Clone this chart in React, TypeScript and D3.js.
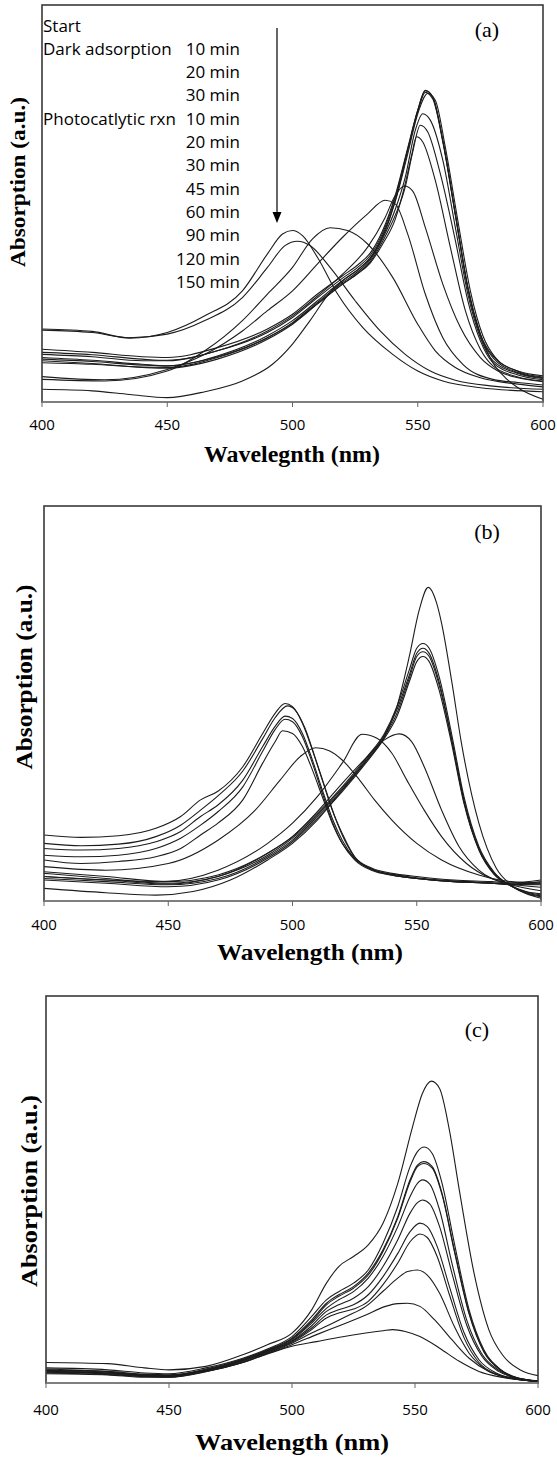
import React from "react";
import * as d3 from "d3";

type Pt = [number, number];

// ---------------- DATA ----------------
const wavelengthTicks = [400, 450, 500, 550, 600];

// Panel (a) spectra: [wavelength nm, absorption a.u.]
const aStart: Pt[] = [[400,3.2],[420,2.8],[435,1.9],[450,1.1],[465,2.6],[480,5.3],[492,9.5],[500,14.6],[507,20.5],[515,27.6],[521,31.0],[527,33.8],[532,37.0],[537,43.0],[542,53.0],[546,63.5],[550,73.5],[553,78.5],[556,76.9],[560,65.9],[565,47.4],[570,28.9],[575,17.1],[580,9.9],[585,6.1],[590,3.6],[600,0.7]];
const aDark10: Pt[] = [[400,13.3],[420,12.5],[440,11.4],[450,11.2],[470,13.7],[490,18.4],[500,22.1],[510,27.2],[520,31.8],[526,34.5],[531,37.5],[536,43.2],[541,52.0],[546,64.0],[550,73.5],[553,78.4],[556,76.7],[560,65.9],[565,47.4],[570,28.9],[575,17.1],[580,11.6],[590,7.8],[600,6.6]];
const aDark20: Pt[] = [[400,12.5],[420,11.9],[440,10.8],[450,10.5],[470,12.9],[490,17.5],[500,21.3],[510,26.3],[520,31.2],[526,33.9],[531,36.9],[536,42.6],[541,51.5],[546,63.5],[550,73.1],[553,78.0],[556,76.3],[560,65.5],[565,47.0],[570,28.5],[575,16.8],[580,11.2],[590,7.4],[600,6.1]];
const aDark30: Pt[] = [[400,11.2],[420,10.5],[440,9.5],[450,9.1],[470,11.6],[490,16.7],[500,20.5],[510,25.5],[520,30.6],[526,33.3],[531,36.3],[536,42.0],[541,50.5],[546,62.5],[550,72.6],[554,77.7],[557,76.0],[561,64.2],[566,45.7],[571,28.0],[576,16.7],[581,11.2],[590,7.7],[600,6.3]];
const aPhoto10: Pt[] = [[400,10.4],[420,9.7],[440,8.8],[450,8.7],[470,11.2],[490,16.2],[500,20.0],[510,25.1],[520,30.1],[526,32.8],[531,35.8],[536,41.2],[541,48.5],[545,56.6],[549,68.4],[552,72.6],[555,71.0],[560,60.9],[565,44.0],[570,27.2],[575,16.2],[580,10.4],[590,7.2],[600,5.9]];
const aPhoto20: Pt[] = [[400,9.9],[420,9.5],[440,8.7],[450,8.5],[470,10.8],[490,15.8],[500,19.6],[510,24.7],[520,29.7],[526,32.4],[531,35.3],[536,40.5],[541,47.0],[545,54.1],[548,63.0],[551,69.7],[554,68.0],[559,57.5],[565,40.7],[570,25.5],[575,15.4],[580,9.9],[590,6.8],[600,5.6]];
const aPhoto30: Pt[] = [[400,10.8],[420,10.2],[440,9.3],[450,9.1],[470,11.4],[490,16.2],[500,19.8],[510,24.8],[520,29.7],[526,32.3],[531,35.0],[536,39.8],[541,46.0],[545,55.0],[547.5,62.0],[549.5,66.8],[552,65.5],[557,55.8],[563,39.0],[569,23.0],[575,13.3],[580,9.1],[590,6.3],[600,5.3]];
const aPhoto45: Pt[] = [[400,12.0],[420,11.4],[440,10.4],[450,10.4],[470,12.9],[490,17.9],[500,21.7],[510,26.7],[520,32.2],[530,39.0],[537,46.5],[541,52.0],[544.7,54.4],[548,53.1],[553,44.0],[560,29.7],[567,18.8],[575,11.2],[582,7.8],[590,6.1],[600,5.1]];
const aPhoto60: Pt[] = [[400,6.4],[425,5.6],[450,8.2],[465,12.0],[480,17.9],[490,23.0],[500,28.0],[510,34.8],[520,41.5],[530,47.4],[537,50.8],[541,49.9],[546,42.3],[553,27.2],[560,16.2],[568,9.5],[580,5.7],[590,4.9],[600,4.3]];
const aPhoto90: Pt[] = [[400,5.7],[425,5.3],[450,7.8],[465,12.9],[480,20.5],[490,27.2],[500,33.9],[508,41.1],[515,43.9],[522,43.2],[530,39.8],[540,31.4],[550,19.6],[557,12.9],[565,8.7],[575,6.1],[590,4.5],[600,3.8]];
const aPhoto120: Pt[] = [[400,18.1],[420,17.5],[435,16.2],[450,17.1],[465,20.5],[480,26.3],[490,33.9],[497,39.4],[502,40.5],[507,39.4],[515,33.9],[525,25.5],[535,17.9],[545,12.0],[555,7.8],[565,5.5],[580,4.0],[600,3.2]];
const aPhoto150: Pt[] = [[400,18.4],[420,17.8],[435,16.1],[450,17.5],[465,21.7],[480,28.0],[490,37.3],[496,42.3],[500,43.2],[504,41.9],[510,36.4],[518,27.2],[528,18.8],[540,12.0],[550,7.8],[560,5.3],[575,3.6],[600,2.6]];

// Panel (b) spectra
const b1: Pt[] = [[400,3.2],[425,2.1],[445,1.5],[460,2.4],[475,5.3],[490,10.4],[500,14.6],[510,20.5],[520,28.1],[530,35.7],[537,41.6],[542,49.2],[547,61.9],[551,73.7],[554.6,79.4],[558,75.4],[560,70.3],[564,55.9],[568,39.9],[575,19.7],[582,8.3],[588,4.1],[594,1.9],[600,0.7]];
const b2: Pt[] = [[400,7.4],[425,6.2],[450,4.9],[470,6.6],[490,12.1],[500,16.3],[510,22.2],[520,28.9],[530,36.5],[537,42.4],[542,49.2],[547,58.5],[550,64.0],[552.5,65.2],[555,64.0],[559,56.8],[564,42.4],[569,26.4],[575,13.8],[581,7.4],[588,3.8],[594,1.9],[600,1.1]];
const b3: Pt[] = [[400,6.2],[425,5.3],[450,4.3],[470,6.2],[490,11.6],[500,15.9],[510,21.8],[520,28.5],[530,36.1],[537,42.0],[542,48.4],[547,57.2],[550,62.7],[552.5,64.0],[555,62.7],[559,55.5],[564,41.2],[569,25.6],[575,13.3],[581,7.2],[588,3.8],[594,2.1],[600,1.3]];
const b4: Pt[] = [[400,5.7],[425,4.9],[450,4.1],[470,5.7],[490,11.2],[500,15.4],[510,21.4],[520,28.1],[530,35.7],[537,41.6],[542,47.5],[547,56.4],[550,61.9],[552.5,63.1],[555,61.9],[559,54.7],[564,40.8],[569,25.1],[575,13.1],[581,7.0],[588,3.8],[594,2.3],[600,1.5]];
const b5: Pt[] = [[400,5.3],[425,4.5],[450,3.6],[470,5.3],[490,10.8],[500,15.0],[510,20.9],[520,27.7],[530,35.3],[537,41.2],[542,46.7],[547,55.5],[550,60.6],[552.5,61.9],[555,60.6],[559,53.4],[564,39.9],[569,24.7],[575,12.9],[581,6.8],[588,3.8],[594,2.4],[600,1.8]];
const b6: Pt[] = [[400,7.0],[425,5.7],[450,4.5],[470,6.2],[490,12.1],[500,16.3],[510,22.6],[520,29.8],[530,36.5],[537,40.8],[543,42.3],[548,40.3],[553,34.0],[560,23.0],[567,13.8],[575,7.8],[588,4.1],[600,2.6]];
const b7: Pt[] = [[400,6.2],[425,5.3],[448,4.9],[470,7.8],[490,14.6],[500,19.7],[510,26.4],[520,34.9],[528,42.2],[534,41.2],[540,37.4],[546,30.6],[553,23.0],[560,16.3],[570,9.5],[580,5.7],[588,4.3],[600,3.5]];
const b8: Pt[] = [[400,8.7],[425,7.8],[450,9.5],[470,15.4],[485,23.0],[495,30.6],[503,36.5],[509.4,38.8],[515,38.0],[520,35.7],[527,30.6],[533,25.6],[540,20.5],[550,14.6],[560,10.4],[575,6.6],[588,4.9],[600,4.5]];
const b9: Pt[] = [[400,16.7],[415,16.1],[430,16.5],[445,18.4],[455,21.4],[463,25.6],[470,27.8],[480,34.0],[488,42.4],[493,47.5],[497,50.0],[500,49.2],[504,45.0],[508,38.2],[512,30.6],[516,23.0],[520,17.1],[525,11.2],[532,8.3],[540,7.0],[550,6.2],[565,5.3],[580,4.9],[588,4.6],[600,5.3]];
const b10: Pt[] = [[400,14.6],[415,14.0],[430,14.4],[445,16.3],[455,19.2],[463,23.0],[470,26.6],[480,32.9],[488,41.1],[493,46.4],[498,49.4],[501,48.4],[505,43.8],[509,36.5],[513,28.9],[517,21.4],[521,15.4],[526,10.4],[533,7.8],[540,6.6],[550,5.7],[565,4.9],[580,4.5],[588,4.3],[600,4.9]];
const b11: Pt[] = [[400,13.3],[415,12.9],[430,13.3],[445,15.0],[455,17.6],[463,21.4],[470,24.3],[480,30.6],[488,39.1],[493,44.2],[497,46.8],[500,46.2],[504,42.4],[508,35.7],[512,28.1],[516,20.9],[520,15.4],[525,10.8],[532,8.0],[540,6.8],[550,5.9],[565,5.1],[580,4.6],[588,4.3],[600,4.6]];
const b12: Pt[] = [[400,11.6],[415,11.2],[430,11.6],[445,13.3],[455,15.9],[463,19.2],[470,22.6],[480,28.9],[488,37.9],[493,43.4],[497,46.0],[500,45.4],[504,41.6],[508,34.9],[512,27.3],[516,20.1],[520,14.6],[525,10.4],[532,7.7],[540,6.5],[550,5.7],[565,4.9],[580,4.5],[588,4.2],[600,4.3]];
const b13: Pt[] = [[400,10.4],[415,9.5],[430,10.0],[445,11.2],[455,13.3],[463,16.7],[470,19.7],[480,25.6],[488,34.9],[493,40.3],[496,43.1],[500,42.4],[504,39.1],[508,33.2],[512,26.4],[516,19.7],[520,14.6],[525,10.8],[532,8.0],[540,6.6],[550,5.7],[565,4.9],[580,4.5],[588,4.1],[600,4.1]];

// Panel (c) spectra
const c1: Pt[] = [[400,5.3],[425,5.0],[440,3.9],[450,3.4],[465,4.3],[480,7.3],[490,9.9],[500,12.9],[508,18.9],[514,25.8],[519,30.1],[525,32.7],[531,35.7],[537,41.3],[543,51.6],[549,66.2],[553,74.8],[556.7,78.0],[560,76.1],[564,65.3],[568,49.9],[574,28.4],[580,13.8],[586,6.9],[593,3.3],[600,1.9]];
const c2: Pt[] = [[400,3.9],[425,3.4],[440,2.6],[450,2.4],[465,3.9],[480,6.4],[490,8.8],[500,12.0],[508,17.2],[514,21.5],[519,23.6],[525,25.8],[531,29.2],[537,36.1],[543,45.6],[548,55.9],[551,59.8],[553.8,61.0],[557,59.3],[561,51.6],[566,36.1],[572,18.9],[578,8.6],[585,3.4],[592,1.3],[600,0.6]];
const c3: Pt[] = [[400,3.4],[425,3.0],[440,2.3],[450,2.1],[465,3.6],[480,6.2],[490,8.6],[500,11.6],[508,16.3],[514,20.6],[519,22.8],[525,24.9],[531,28.4],[537,34.4],[543,43.0],[548,52.5],[551,56.3],[553.5,57.2],[557,55.9],[561,49.0],[566,34.4],[572,18.1],[578,8.2],[585,3.3],[592,1.2],[600,0.5]];
const c4: Pt[] = [[400,3.0],[425,2.6],[440,2.1],[450,1.9],[465,3.4],[480,6.0],[490,8.4],[500,11.4],[508,15.9],[514,20.2],[519,22.4],[525,24.5],[531,27.9],[537,34.0],[543,42.6],[548,52.0],[551,55.9],[553.5,56.7],[557,55.5],[561,48.6],[566,34.0],[572,17.8],[578,8.0],[585,3.2],[592,1.2],[600,0.5]];
const c5: Pt[] = [[400,3.3],[425,2.8],[440,2.1],[450,2.0],[465,3.4],[480,6.0],[490,8.3],[500,11.2],[508,15.5],[514,19.3],[519,21.5],[525,23.6],[531,27.1],[537,32.7],[543,40.4],[548,48.2],[551,51.6],[553,52.5],[556,51.4],[560,44.7],[565,31.0],[571,16.3],[577,7.7],[584,3.3],[592,1.2],[600,0.5]];
const c6: Pt[] = [[400,2.8],[425,2.4],[440,1.9],[450,1.7],[465,3.3],[480,5.8],[490,8.2],[500,10.9],[508,14.8],[514,18.5],[519,20.2],[525,21.9],[531,24.9],[537,30.1],[543,37.0],[548,43.9],[551,46.6],[553,47.3],[556,46.3],[560,40.4],[565,28.4],[571,15.0],[577,7.1],[584,3.0],[592,1.1],[600,0.4]];
const c7: Pt[] = [[400,2.6],[425,2.2],[440,1.7],[450,1.6],[465,3.2],[480,5.8],[490,8.0],[500,10.7],[508,14.2],[514,17.6],[519,18.9],[525,20.2],[531,22.8],[537,27.5],[543,33.5],[548,39.1],[552,41.3],[555,40.4],[559,35.3],[564,24.9],[570,12.9],[576,6.0],[583,2.6],[592,1.0],[600,0.4]];
const c8: Pt[] = [[400,2.4],[425,2.1],[440,1.5],[450,1.5],[465,3.0],[480,5.6],[490,7.9],[500,10.5],[508,13.8],[514,16.8],[519,18.1],[525,19.1],[531,21.1],[537,25.4],[543,31.0],[548,36.5],[552,38.5],[555,37.6],[559,32.7],[564,22.8],[570,11.6],[576,5.3],[583,2.3],[592,0.9],[600,0.4]];
const c9: Pt[] = [[400,2.9],[425,2.4],[440,1.7],[450,1.5],[465,2.9],[480,5.4],[490,7.7],[500,10.3],[508,12.9],[515,15.0],[522,17.2],[530,19.8],[537,23.7],[543,27.1],[547,28.8],[551,29.2],[555,27.9],[560,23.2],[566,14.6],[572,7.7],[579,3.4],[588,1.3],[600,0.4]];
const c10: Pt[] = [[400,3.3],[425,2.6],[440,1.9],[450,1.7],[465,3.0],[480,5.3],[490,7.6],[500,9.9],[510,12.5],[520,15.0],[530,17.6],[538,19.8],[543,20.5],[547,20.6],[552,19.8],[558,16.3],[565,11.2],[572,6.4],[580,3.0],[590,1.2],[600,0.4]];
const c11: Pt[] = [[400,3.6],[425,2.9],[440,2.1],[450,1.9],[465,3.1],[480,5.3],[490,7.5],[500,9.5],[510,10.7],[520,11.9],[530,12.9],[537,13.5],[541,13.8],[546,13.3],[552,12.0],[560,9.0],[568,5.6],[576,3.0],[585,1.5],[600,0.5]];

const curvesA = [aStart, aDark10, aDark20, aDark30, aPhoto10, aPhoto20, aPhoto30, aPhoto45, aPhoto60, aPhoto90, aPhoto120, aPhoto150];
const curvesB = [b1, b2, b3, b4, b5, b6, b7, b8, b9, b10, b11, b12, b13];
const curvesC = [c1, c2, c3, c4, c5, c6, c7, c8, c9, c10, c11];

// Legend of panel (a)
const legendStage = ["Start", "Dark adsorption", "", "", "Photocatlytic rxn", "", "", "", "", "", "", ""];
const legendTime = ["", "10 min", "20 min", "30 min", "10 min", "20 min", "30 min", "45 min", "60 min", "90 min", "120 min", "150 min"];

// ---------------- LAYOUT ----------------
const panels = [
  { curves: curvesA, left: 42, right: 543, top: 5, bottom: 402, label: "(a)", labelX: 487, labelY: 29,
    xTitle: "Wavelegnth (nm)", xTitleX: 292, xTitleY: 462, xTitleLen: 176,
    yTitleX: 18, yTitleY: 182, yTitleLen: 170, yTitleSize: 21, tickY: 430 },
  { curves: curvesB, left: 44, right: 541, top: 506, bottom: 901, label: "(b)", labelX: 487, labelY: 531,
    xTitle: "Wavelength (nm)", xTitleX: 310, xTitleY: 960, xTitleLen: 186,
    yTitleX: 24, yTitleY: 677, yTitleLen: 185, yTitleSize: 23, tickY: 930 },
  { curves: curvesC, left: 46, right: 538, top: 996, bottom: 1383, label: "(c)", labelX: 477, labelY: 1029,
    xTitle: "Wavelength (nm)", xTitleX: 292, xTitleY: 1450, xTitleLen: 194,
    yTitleX: 29, yTitleY: 1191, yTitleLen: 192, yTitleSize: 23, tickY: 1415 },
];

const serif = "'Liberation Serif', 'Times New Roman', serif";
const sans = "'Open Sans', 'Noto Sans', sans-serif";

function Panel({ p }: { p: (typeof panels)[number] }) {
  const x = d3.scaleLinear().domain([400, 600]).range([p.left, p.right]);
  const y = d3.scaleLinear().domain([0, 100]).range([p.bottom, p.top]);
  const line = d3
    .line<Pt>()
    .x((d) => x(d[0]))
    .y((d) => y(d[1]))
    .curve(d3.curveMonotoneX);
  return (
    <g>
      {p.curves.map((c, i) => (
        <path key={i} d={line(c) || ""} fill="none" stroke="#1c1c1c" strokeWidth={1.1} />
      ))}
      <rect x={p.left} y={p.top} width={p.right - p.left} height={p.bottom - p.top}
        fill="none" stroke="#3a3a3a" strokeWidth={1.6} />
      <line x1={p.left} x2={p.right} y1={p.bottom} y2={p.bottom} stroke="#8a8a8a" strokeWidth={1.4} />
      {wavelengthTicks.map((t) => (
        <g key={t}>
          <line x1={x(t)} x2={x(t)} y1={p.bottom} y2={p.bottom + 5} stroke="#666" strokeWidth={1} />
          <text x={x(t)} y={p.tickY} textAnchor="middle" fontFamily={sans} fontSize={15} fill="#000">
            {t}
          </text>
        </g>
      ))}
      <text x={p.xTitleX} y={p.xTitleY} textAnchor="middle" fontFamily={serif} fontWeight="bold"
        fontSize={24} textLength={p.xTitleLen} lengthAdjust="spacingAndGlyphs">
        {p.xTitle}
      </text>
      <text transform={`translate(${p.yTitleX},${p.yTitleY}) rotate(-90)`} textAnchor="middle"
        dominantBaseline="central" fontFamily={serif} fontWeight="bold" fontSize={p.yTitleSize}
        textLength={p.yTitleLen} lengthAdjust="spacingAndGlyphs">
        Absorption (a.u.)
      </text>
      <text x={p.labelX} y={p.labelY} textAnchor="middle" dominantBaseline="central"
        fontFamily={serif} fontSize={22}>
        {p.label}
      </text>
    </g>
  );
}

export default function App() {
  return (
    <svg width={557} height={1458} viewBox="0 0 557 1458"
      style={{ position: "absolute", left: 0, top: 0, background: "#fff" }}>
      <rect x={0} y={0} width={557} height={1458} fill="#fff" />
      {panels.map((p, i) => (
        <Panel key={i} p={p} />
      ))}
      {/* legend of panel (a) */}
      {legendStage.map((s, i) => (
        <text key={"s" + i} x={43} y={25 + i * 23.3} dominantBaseline="central"
          fontFamily={sans} fontSize={17} fill="#000">{s}</text>
      ))}
      {legendTime.map((s, i) => (
        <text key={"t" + i} x={240} y={25 + i * 23.3} dominantBaseline="central" textAnchor="end"
          fontFamily={sans} fontSize={17} fill="#000">{s}</text>
      ))}
      {/* arrow */}
      <line x1={277} x2={277} y1={28} y2={213} stroke="#000" strokeWidth={1.2} />
      <path d="M272.5,212 L281.5,212 L277,223 Z" fill="#000" />
    </svg>
  );
}
